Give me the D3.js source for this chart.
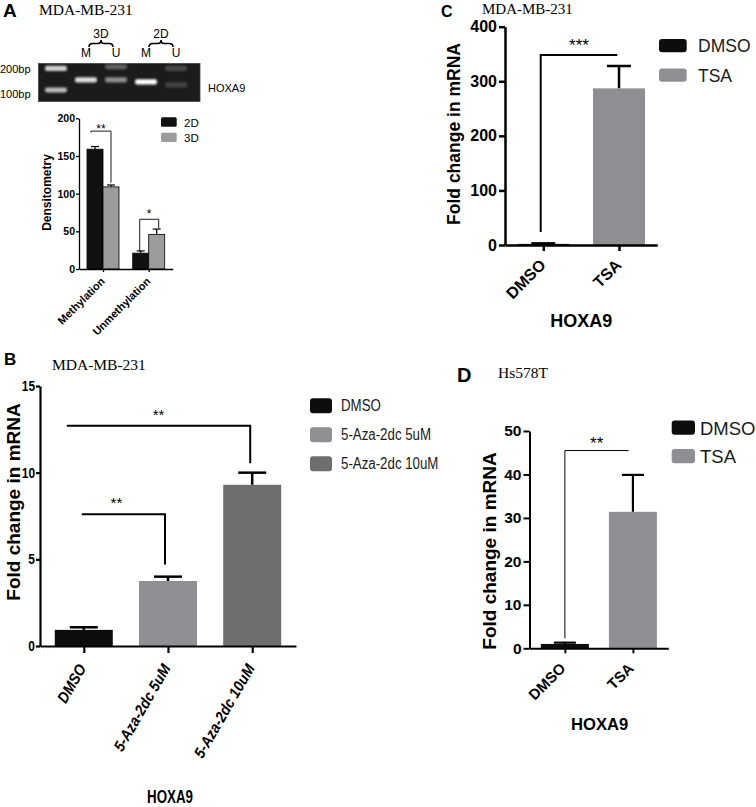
<!DOCTYPE html>
<html><head><meta charset="utf-8">
<script src="https://cdn.jsdelivr.net/npm/d3@7"></script>
<style>body{margin:0;background:#fff;}svg{display:block;}</style>
</head><body>
<svg id="fig" width="756" height="807"></svg>
<script>
// ================= DATA =================
// Panel A: gel
const gelLanes = ["Ladder", "3D M", "3D U", "2D M", "2D U"];
const gelBandLane = ["Ladder", "Ladder", "3D M", "3D U", "3D U", "2D M", "2D U", "2D U"];
const gelBandBp = [200, 100, 138, 210, 138, 130, 200, 118];
const gelBandIntensity = [0.8, 0.7, 0.85, 0.3, 0.5, 1.0, 0.2, 0.18];
const gelMarkers = ["200bp", "100bp"];
const gelMarkerBp = [200, 100];
const gelGroups = ["3D", "2D"];
const gelLaneLetters = ["M", "U", "M", "U"];

// Panel A: densitometry
const catA = ["Methylation", "Unmethylation"];
const seriesA = ["2D", "3D"];
const valA2D = [159, 21];
const errA2D = [3.5, 3];
const valA3D = [109, 46];
const errA3D = [2.5, 7];
const ticksA = [0, 50, 100, 150, 200];
const sigALabels = ["**", "*"];
const sigAy = [183, 66];
const sigALeftDrop = [null, 23];
const sigARightDrop = [114.5, 54];

// Panel B
const catB = ["DMSO", "5-Aza-2dc 5uM", "5-Aza-2dc 10uM"];
const valB = [0.93, 3.75, 9.3];
const errB = [0.15, 0.25, 0.7];
const ticksB = [0, 5, 10, 15];
const sigBLabels = ["**", "**"];
const sigBFrom = ["DMSO", "DMSO"];
const sigBTo = ["5-Aza-2dc 5uM", "5-Aza-2dc 10uM"];
const sigBy = [7.6, 12.7];
const sigBRightDrop = [4.7, 10.55];

// Panel C
const catC = ["DMSO", "TSA"];
const valC = [2, 287];
const errC = [1, 41];
const ticksC = [0, 100, 200, 300, 400];
const sigCy = 348;
const sigCLeftDrop = 24;

// Panel D
const catD = ["DMSO", "TSA"];
const valD = [1.0, 31.4];
const errD = [0.3, 8.5];
const ticksD = [0, 10, 20, 30, 40, 50];
const sigDy = 45.5;
const sigDLeftDrop = 2.3;

// ================= DRAW =================
const SANS = '"Liberation Sans", Arial, Helvetica, sans-serif';
const SERIF = '"Liberation Serif", "Times New Roman", serif';

const svg = d3.select("#fig");
svg.append("rect").attr("width", 756).attr("height", 807).attr("fill", "#fff");
const defs = svg.append("defs");
defs.append("filter").attr("id", "blur").attr("x", "-50%").attr("y", "-100%").attr("width", "200%").attr("height", "300%")
  .append("feGaussianBlur").attr("stdDeviation", 1.3);

function txt(g, s, x, y, o = {}) {
  const t = g.append("text").attr("x", x).attr("y", y).text(s)
    .attr("font-family", o.family || SANS).attr("font-size", o.size || 12)
    .attr("font-weight", o.weight || "normal").attr("text-anchor", o.anchor || "start")
    .attr("fill", o.fill || "#000");
  if (o.style) t.attr("font-style", o.style);
  if (o.rotate != null) t.attr("transform", `rotate(${o.rotate},${x},${y})`);
  if (o.len) t.attr("textLength", o.len).attr("lengthAdjust", "spacingAndGlyphs");
  if (o.squeeze) {
    const L = t.node().getComputedTextLength();
    t.attr("textLength", L * o.squeeze).attr("lengthAdjust", "spacingAndGlyphs");
  }
  return t;
}

function styleAxis(ax, w, fs, weight) {
  ax.select(".domain").attr("stroke", "#000").attr("stroke-width", w);
  ax.selectAll(".tick line").attr("stroke", "#000").attr("stroke-width", w);
  ax.selectAll(".tick text").attr("font-family", SANS).attr("font-size", fs)
    .attr("font-weight", weight).attr("fill", "#000");
}

// ---------- Panel letters and titles ----------
txt(svg, "A", 3, 17, {size: 19, weight: "bold"});
txt(svg, "MDA-MB-231", 39, 15, {size: 15.5, family: SERIF});
txt(svg, "B", 4, 365, {size: 17, weight: "bold"});
txt(svg, "MDA-MB-231", 52, 370, {size: 15.5, family: SERIF});
txt(svg, "C", 441, 17, {size: 16, weight: "bold"});
txt(svg, "MDA-MB-231", 482, 14, {size: 15, family: SERIF});
txt(svg, "D", 457, 382, {size: 20, weight: "bold"});
txt(svg, "Hs578T", 498, 378, {size: 15.5, family: SERIF});

// ---------- Panel A: gel ----------
(function () {
  const g = svg.append("g");
  g.append("rect").attr("x", 38.5).attr("y", 63.5).attr("width", 161.5).attr("height", 38)
    .attr("fill", "#1b1b1b").attr("stroke", "#444").attr("stroke-width", 0.8);
  const gx = d3.scaleBand().domain(gelLanes).range([45, 187]).paddingInner(0.27);
  const gy = d3.scaleLog().domain([100, 200]).range([90, 68.3]);
  g.append("g").attr("filter", "url(#blur)").selectAll("rect").data(gelBandBp).join("rect")
    .attr("x", (d, i) => gx(gelBandLane[i]))
    .attr("y", d => gy(d) - 2.6)
    .attr("width", gx.bandwidth())
    .attr("height", 5.2)
    .attr("rx", 2)
    .attr("fill", "#fff")
    .attr("opacity", (d, i) => gelBandIntensity[i]);
  gelMarkers.forEach((m, i) => txt(g, m, 0, gy(gelMarkerBp[i]) + (i === 0 ? 5 : 8), {size: 11}));
  txt(g, "HOXA9", 208, 91.7, {size: 11});
  const pairs = [["3D M", "3D U"], ["2D M", "2D U"]];
  pairs.forEach((p, i) => {
    const xL = gx(p[0]) + gx.bandwidth() / 2, xR = gx(p[1]) + gx.bandwidth() / 2;
    const mid = (xL + xR) / 2;
    txt(g, gelGroups[i], mid, 38, {size: 12, anchor: "middle"});
    const a = xL + 3, b = xR - 3, yb = 43.5;
    g.append("path")
      .attr("d", `M${a},${yb + 3.5} Q${a},${yb} ${a + 4},${yb} L${mid - 3},${yb} Q${mid},${yb} ${mid},${yb - 3.5} Q${mid},${yb} ${mid + 3},${yb} L${b - 4},${yb} Q${b},${yb} ${b},${yb + 3.5}`)
      .attr("fill", "none").attr("stroke", "#000").attr("stroke-width", 1.6);
    txt(g, gelLaneLetters[i * 2], xL, 57, {size: 12, anchor: "middle"});
    txt(g, gelLaneLetters[i * 2 + 1], xR, 57, {size: 12, anchor: "middle"});
  });
})();

// ---------- Panel A: densitometry ----------
(function () {
  const g = svg.append("g");
  const y = d3.scaleLinear().domain([0, 200]).range([269, 118.3]);
  const x = d3.scalePoint().domain(catA).range([79, 172.7]).padding(0.525);
  const sub = d3.scaleBand().domain(seriesA).range([-16, 16]);
  const vals = {"2D": valA2D, "3D": valA3D};
  const errs = {"2D": errA2D, "3D": errA3D};
  const cols = {"2D": "#111", "3D": "#9c9c9c"};
  seriesA.forEach(s => {
    catA.forEach((c, i) => {
      const cx = x(c) + sub(s) + sub.bandwidth() / 2;
      const v = vals[s][i], e = errs[s][i];
      g.append("line").attr("x1", cx).attr("x2", cx).attr("y1", y(v)).attr("y2", y(v + e))
        .attr("stroke", "#000").attr("stroke-width", 1.2);
      g.append("line").attr("x1", cx - 4).attr("x2", cx + 4).attr("y1", y(v + e)).attr("y2", y(v + e))
        .attr("stroke", "#000").attr("stroke-width", 1.2);
      g.append("rect").attr("x", x(c) + sub(s)).attr("y", y(v)).attr("width", sub.bandwidth())
        .attr("height", y(0) - y(v)).attr("fill", cols[s]).attr("stroke", "#000").attr("stroke-width", 0.8);
    });
  });
  const ay = g.append("g").attr("transform", "translate(79,0)")
    .call(d3.axisLeft(y).tickValues(ticksA).tickSize(3).tickPadding(1).tickSizeOuter(0));
  styleAxis(ay, 1.3, 10.5, "bold");
  const ax = g.append("g").attr("transform", `translate(0,${y(0)})`)
    .call(d3.axisBottom(x).tickSize(3).tickSizeOuter(0).tickFormat(""));
  styleAxis(ax, 1.3, 10, "bold");
  catA.forEach(c => txt(g, c, x(c) + 2.5, y(0) + 13, {size: 11, weight: "bold", anchor: "end", rotate: -45}));
  txt(g, "Densitometry", 50.5, 192.5, {size: 12, weight: "bold", anchor: "middle", rotate: -90});
  catA.forEach((c, i) => {
    const xL = x(c) + sub("2D") + sub.bandwidth() / 2 - (i === 0 ? 4 : 1);
    const xR = x(c) + sub("3D") + sub.bandwidth() / 2 + (i === 0 ? 0 : 2);
    const yb = y(sigAy[i]);
    const yl = sigALeftDrop[i] == null ? yb + 1.5 : y(sigALeftDrop[i]);
    g.append("path").attr("d", `M${xL},${yl} V${yb} H${xR} V${y(sigARightDrop[i])}`)
      .attr("fill", "none").attr("stroke", "#000").attr("stroke-width", 0.9);
    txt(g, sigALabels[i], (xL + xR) / 2, yb + (i === 0 ? 1.5 : -1.5), {size: 12, anchor: "middle"});
  });
  seriesA.forEach((s, i) => {
    g.append("rect").attr("x", 161).attr("y", 117.3 + i * 15.4).attr("width", 15.7).attr("height", 9.4)
      .attr("rx", 1.5).attr("fill", cols[s]);
    txt(g, s, 184, 126.7 + i * 15.2, {size: 11.5});
  });
})();

// ---------- generic single-series panel ----------
function barPanel(cfg) {
  const g = svg.append("g");
  const y = d3.scaleLinear().domain(cfg.yDomain).range(cfg.yRange);
  const x = d3.scalePoint().domain(cfg.cats).range(cfg.xRange).padding(cfg.pad);
  cfg.cats.forEach((c, i) => {
    const cx = x(c), v = cfg.vals[i], e = cfg.errs[i];
    g.append("line").attr("x1", cx).attr("x2", cx).attr("y1", y(v)).attr("y2", y(v + e))
      .attr("stroke", "#000").attr("stroke-width", cfg.errW);
    g.append("line").attr("x1", cx - cfg.capW / 2).attr("x2", cx + cfg.capW / 2)
      .attr("y1", y(v + e)).attr("y2", y(v + e)).attr("stroke", "#000").attr("stroke-width", cfg.errW);
    g.append("rect").attr("x", cx - cfg.barW / 2).attr("y", y(v)).attr("width", cfg.barW)
      .attr("height", Math.max(0, y(0) - y(v))).attr("fill", cfg.colors[i]);
  });
  const ay = g.append("g").attr("transform", `translate(${cfg.xRange[0]},0)`)
    .call(d3.axisLeft(y).tickValues(cfg.ticks).tickSize(cfg.yTick).tickPadding(cfg.yPad).tickSizeOuter(0));
  styleAxis(ay, cfg.axisW, cfg.tickFs, "bold");
  if (cfg.tickSqueeze) ay.selectAll(".tick text").each(function () {
    const t = d3.select(this); const L = this.getComputedTextLength();
    t.attr("textLength", L * cfg.tickSqueeze).attr("lengthAdjust", "spacingAndGlyphs");
  });
  const ax = g.append("g").attr("transform", `translate(0,${y(0)})`)
    .call(d3.axisBottom(x).tickSize(cfg.xTick).tickSizeOuter(0).tickFormat(""));
  styleAxis(ax, cfg.axisW, 10, "bold");
  cfg.cats.forEach(c => txt(g, c, x(c) + cfg.lblDx, y(0) + cfg.lblDy,
    {size: cfg.lblFs, weight: "bold", style: cfg.lblStyle, anchor: "end", rotate: cfg.lblRot, squeeze: cfg.lblSqueeze}));
  txt(g, "Fold change in mRNA", cfg.titleX, cfg.titleY, {size: cfg.titleFs, weight: "bold", anchor: "middle", rotate: -90});
  txt(g, "HOXA9", cfg.hoxX, cfg.hoxY, {size: cfg.hoxFs, weight: "bold", anchor: "middle", len: cfg.hoxLen});
  cfg.cats.forEach((c, i) => {
    g.append("rect").attr("x", cfg.legX).attr("y", cfg.legY + i * cfg.legStep).attr("width", cfg.legW)
      .attr("height", cfg.legH).attr("rx", 3).attr("fill", cfg.colors[i]);
    txt(g, c, cfg.legTX, cfg.legY + cfg.legH + cfg.legTdy + i * cfg.legStep,
      {size: cfg.legFs, fill: "#1a1a1a", squeeze: cfg.legSqueeze});
  });
  return {g, x, y};
}

// ---------- Panel B ----------
(function () {
  const {g, x, y} = barPanel({
    cats: catB, vals: valB, errs: errB, colors: ["#0d0d0d", "#8f8f94", "#6e6e6e"],
    yDomain: [0, 15], yRange: [646, 386], xRange: [40, 296], pad: 0.52,
    ticks: ticksB, barW: 58, capW: 28, errW: 2.5, axisW: 2.2, yTick: 4, yPad: 1, xTick: 7,
    tickFs: 14, tickSqueeze: 0.85,
    lblDx: 3, lblDy: 22, lblFs: 15.5, lblStyle: "italic", lblRot: -60, lblSqueeze: 0.9,
    titleX: 19.5, titleY: 502, titleFs: 19,
    hoxX: 170, hoxY: 803, hoxFs: 19, hoxLen: 46,
    legX: 310, legY: 398.3, legStep: 29, legW: 22, legH: 15, legTX: 341, legTdy: -2, legFs: 16, legSqueeze: 0.83
  });
  const offs = [[-2, -3], [-17, -2]];
  sigBLabels.forEach((s, i) => {
    const xL = x(sigBFrom[i]) + offs[i][0], xR = x(sigBTo[i]) + offs[i][1];
    g.append("path").attr("d", `M${xL},${y(sigBy[i])} H${xR} V${y(sigBRightDrop[i])}`)
      .attr("fill", "none").attr("stroke", "#000").attr("stroke-width", 2);
    txt(g, s, (xL + xR) / 2 + (i === 0 ? -7 : 0), y(sigBy[i]) - 6, {size: 15, anchor: "middle"});
  });
})();

// ---------- Panel C ----------
(function () {
  const {g, x, y} = barPanel({
    cats: catC, vals: valC, errs: errC, colors: ["#0d0d0d", "#8e8e93"],
    yDomain: [0, 400], yRange: [245, 26.7], xRange: [505, 657.3], pad: 0.506,
    ticks: ticksC, barW: 52, capW: 24, errW: 2.5, axisW: 2.5, yTick: 6, yPad: 2, xTick: 6,
    tickFs: 16,
    lblDx: 3.4, lblDy: 21, lblFs: 16, lblRot: -45,
    titleX: 460, titleY: 134, titleFs: 17.5,
    hoxX: 581.3, hoxY: 326.7, hoxFs: 18,
    legX: 659, legY: 39, legStep: 29.4, legW: 27.7, legH: 13.3, legTX: 698, legTdy: 0, legFs: 17.5
  });
  const xL = x("DMSO") - 2.6, xR = x("TSA") - 1.7;
  g.append("path").attr("d", `M${xL},${y(sigCLeftDrop)} V${y(sigCy)} H${xR}`)
    .attr("fill", "none").attr("stroke", "#000").attr("stroke-width", 2);
  txt(g, "***", (xL + xR) / 2, y(sigCy) - 4, {size: 17, anchor: "middle"});
})();

// ---------- Panel D ----------
(function () {
  const {g, x, y} = barPanel({
    cats: catD, vals: valD, errs: errD, colors: ["#0d0d0d", "#8e8e93"],
    yDomain: [0, 50], yRange: [648.3, 431], xRange: [529.5, 668.3], pad: 0.52,
    ticks: ticksD, barW: 48, capW: 22, errW: 2.2, axisW: 2, yTick: 6, yPad: 2, xTick: 5,
    tickFs: 15.5,
    lblDx: 1.7, lblDy: 21, lblFs: 15, lblRot: -45,
    titleX: 495.5, titleY: 551, titleFs: 19,
    hoxX: 599.7, hoxY: 730, hoxFs: 16.6,
    legX: 671.7, legY: 420.5, legStep: 28.5, legW: 23.3, legH: 14.3, legTX: 700, legTdy: 0, legFs: 18.5
  });
  const xL = x("DMSO"), xR = x("TSA") - 4.4;
  g.append("path").attr("d", `M${xL},${y(sigDLeftDrop)} V${y(sigDy)} H${xR}`)
    .attr("fill", "none").attr("stroke", "#000").attr("stroke-width", 1);
  txt(g, "**", (xL + xR) / 2, y(sigDy) - 2, {size: 17, anchor: "middle"});
})();
</script>
</body></html>
